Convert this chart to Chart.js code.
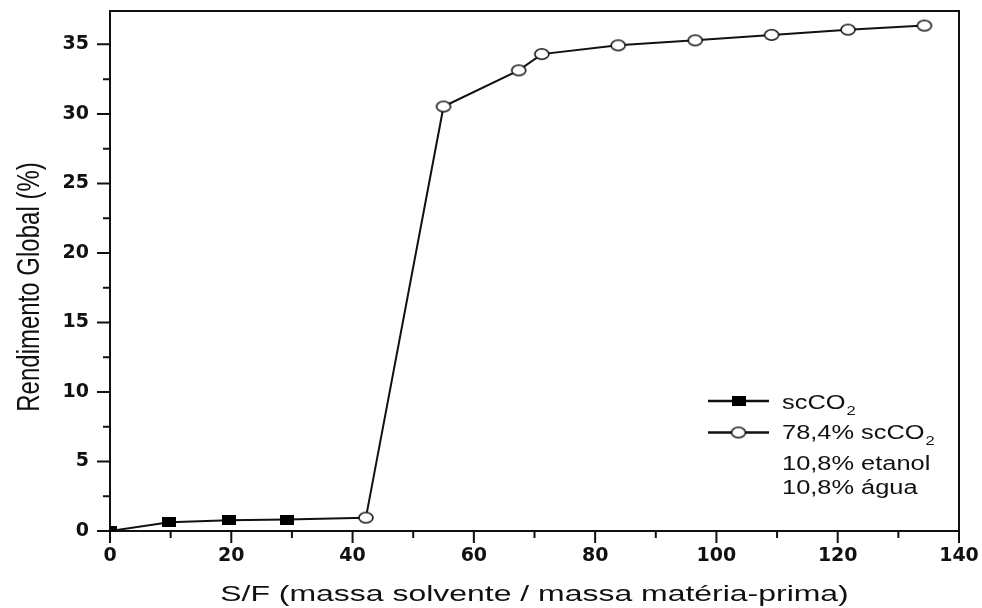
<!DOCTYPE html>
<html>
<head>
<meta charset="utf-8">
<script src="https://cdn.jsdelivr.net/npm/chart.js@4.4.0/dist/chart.umd.min.js"></script>
<style>
  html, body { margin: 0; padding: 0; background: #fff; }
  #wrap { width: 982px; height: 608px; }
</style>
</head>
<body>
<div id="wrap"><canvas id="yieldChart"></canvas></div>
<script>
// values
const scco2X = [0, 9.8, 19.6, 29.2, 42.2];
const scco2Y = [0, 0.63, 0.77, 0.82, 0.96];
const mixX = [42.2, 55.0, 67.4, 71.2, 83.8, 96.5, 109.1, 121.7, 134.3];
const mixY = [0.96, 30.53, 33.13, 34.3, 34.93, 35.29, 35.68, 36.06, 36.35];

const xTicks = [0, 20, 40, 60, 80, 100, 120, 140];
const xMinor = [10, 30, 50, 70, 90, 110, 130];
const yTicks = [0, 5, 10, 15, 20, 25, 30, 35];
const yMinor = [2.5, 7.5, 12.5, 17.5, 22.5, 27.5, 32.5];

const xTitle = 'S/F (massa solvente / massa matéria-prima)';
const yTitle = 'Rendimento Global (%)';
const legendRows = [
    { text: 'scCO', sub: '2', marker: 'square' },
    { text: '78,4% scCO', sub: '2', marker: 'circle' },
    { text: '10,8% etanol' },
    { text: '10,8% água' }
];

const INK = '#111';
const FONT = '"Liberation Sans", Arial, sans-serif';

// markers in the source are a bit wider than tall
function makeSquare() {
    const c = document.createElement('canvas');
    c.width = 14; c.height = 10;
    const g = c.getContext('2d');
    g.fillStyle = '#000';
    g.fillRect(0, 0, 14, 10);
    return c;
}
function makeCircle() {
    const c = document.createElement('canvas');
    c.width = 18; c.height = 14;
    const g = c.getContext('2d');
    g.beginPath();
    g.ellipse(9, 7, 7, 5.2, 0, 0, Math.PI * 2);
    g.fillStyle = '#fff';
    g.fill();
    g.lineWidth = 1.6;
    g.strokeStyle = INK;
    g.stroke();
    return c;
}
const squareMark = makeSquare();
const circleMark = makeCircle();

function stretchText(ctx, str, x, y, sx, align) {
    ctx.save();
    ctx.translate(x, y);
    ctx.scale(sx, 1);
    ctx.textAlign = align || 'left';
    ctx.fillText(str, 0, 0);
    ctx.restore();
}

// frame + outward ticks
const framePlugin = {
    id: 'frame',
    beforeDatasetsDraw(chart) {
        const { ctx, chartArea: a, scales } = chart;
        ctx.save();
        ctx.strokeStyle = INK;
        ctx.lineWidth = 2;
        ctx.strokeRect(a.left, a.top, a.right - a.left, a.bottom - a.top);
        ctx.beginPath();
        xTicks.forEach(v => {
            const px = scales.x.getPixelForValue(v);
            ctx.moveTo(px, a.bottom); ctx.lineTo(px, a.bottom + 12);
        });
        xMinor.forEach(v => {
            const px = scales.x.getPixelForValue(v);
            ctx.moveTo(px, a.bottom); ctx.lineTo(px, a.bottom + 7);
        });
        yTicks.forEach(v => {
            const py = scales.y.getPixelForValue(v);
            ctx.moveTo(a.left, py); ctx.lineTo(a.left - 13, py);
        });
        yMinor.forEach(v => {
            const py = scales.y.getPixelForValue(v);
            ctx.moveTo(a.left, py); ctx.lineTo(a.left - 7, py);
        });
        ctx.stroke();
        ctx.restore();
    }
};

// axis titles and the legend box
const textPlugin = {
    id: 'texts',
    afterDraw(chart) {
        const { ctx, chartArea: a } = chart;
        ctx.save();
        ctx.fillStyle = INK;
        ctx.textBaseline = 'alphabetic';

        ctx.font = '22.5px ' + FONT;
        stretchText(ctx, xTitle, (a.left + a.right) / 2, 601, 1.42, 'center');

        ctx.font = '24px ' + FONT;
        ctx.save();
        ctx.translate(39, 287);
        ctx.scale(1.3, 1);
        ctx.rotate(-Math.PI / 2);
        ctx.textAlign = 'center';
        ctx.fillText(yTitle, 0, 0);
        ctx.restore();

        // legend
        const lineY = [401, 432.5];
        const baseY = [408.5, 438.5, 469.5, 493.5];
        const textX = 782;
        legendRows.forEach((row, i) => {
            if (row.marker) {
                ctx.strokeStyle = INK;
                ctx.lineWidth = 2.4;
                ctx.beginPath();
                ctx.moveTo(708, lineY[i]); ctx.lineTo(769, lineY[i]);
                ctx.stroke();
                const m = row.marker === 'square' ? squareMark : circleMark;
                ctx.drawImage(m, 738.5 - m.width / 2, lineY[i] - m.height / 2);
            }
            ctx.font = '20px ' + FONT;
            stretchText(ctx, row.text, textX, baseY[i], 1.27, 'left');
            if (row.sub) {
                const w = ctx.measureText(row.text).width * 1.27;
                ctx.font = '13px ' + FONT;
                stretchText(ctx, row.sub, textX + w + 1, baseY[i] + 6.5, 1.27, 'left');
            }
        });
        ctx.restore();
    }
};

const tickFont = { family: '"DejaVu Sans", sans-serif', weight: 'bold', size: 19 };

new Chart(document.getElementById('yieldChart').getContext('2d'), {
    type: 'line',
    data: {
        datasets: [
            {
                label: 'scCO2',
                data: scco2X.map((x, i) => ({ x: x, y: scco2Y[i] })),
                borderColor: INK,
                borderWidth: 2,
                pointStyle: squareMark,
                pointRadius: [5, 5, 5, 5, 0],
                tension: 0,
                order: 1
            },
            {
                label: '78,4% scCO2 / 10,8% etanol / 10,8% água',
                data: mixX.map((x, i) => ({ x: x, y: mixY[i] })),
                borderColor: INK,
                borderWidth: 2,
                pointStyle: circleMark,
                pointRadius: 5,
                tension: 0,
                order: 0
            }
        ]
    },
    options: {
        responsive: true,
        maintainAspectRatio: false,
        animation: false,
        layout: { padding: { top: 11, right: 23, bottom: 0, left: 0 } },
        plugins: { legend: { display: false }, tooltip: { enabled: false } },
        scales: {
            x: {
                type: 'linear',
                min: 0,
                max: 140,
                afterFit: (s) => { s.height = 77; s.paddingLeft = 0; s.paddingRight = 0; },
                grid: { display: false, drawTicks: false },
                border: { display: false },
                ticks: {
                    stepSize: 20,
                    autoSkip: false,
                    includeBounds: false,
                    maxRotation: 0,
                    padding: 14,
                    color: INK,
                    font: tickFont,
                    callback: (v) => xTicks.includes(v) ? v : ''
                }
            },
            y: {
                type: 'linear',
                min: 0,
                max: 37.4,
                afterFit: (s) => { s.width = 110; s.paddingTop = 0; s.paddingBottom = 0; },
                grid: { display: false, drawTicks: false },
                border: { display: false },
                ticks: {
                    stepSize: 5,
                    autoSkip: false,
                    includeBounds: false,
                    padding: 21,
                    color: INK,
                    font: tickFont,
                    callback: (v) => yTicks.includes(v) ? v : ''
                }
            }
        }
    },
    plugins: [framePlugin, textPlugin]
});
</script>
</body>
</html>
